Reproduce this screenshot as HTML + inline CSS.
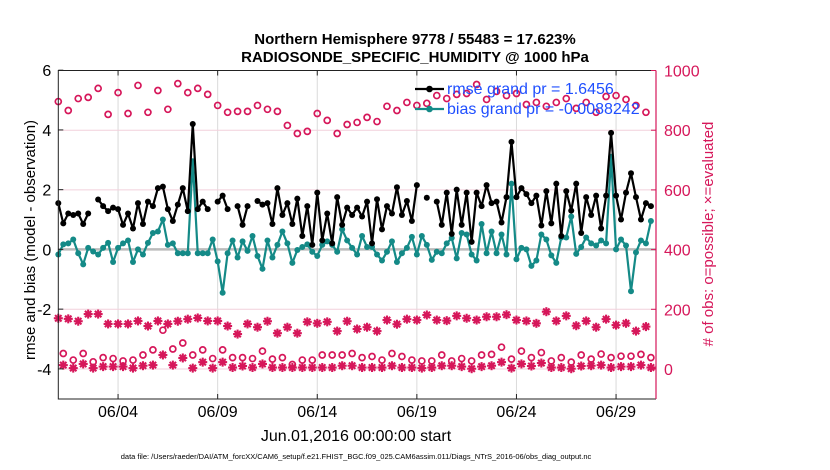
<!DOCTYPE html>
<html><head><meta charset="utf-8"><style>
html,body{margin:0;padding:0;background:#fff;}
svg{display:block;font-family:"Liberation Sans",Arial,sans-serif;}
</style></head><body>
<svg id="chart" width="830" height="470" viewBox="0 0 830 470">
<text x="415" y="44" text-anchor="middle" font-size="15" font-weight="bold">Northern Hemisphere 9778 / 55483 = 17.623%</text>
<text x="415" y="62" text-anchor="middle" font-size="15" font-weight="bold">RADIOSONDE_SPECIFIC_HUMIDITY @ 1000 hPa</text>
<g id="grid"></g><g id="marks"></g><g id="axes"></g>
<text transform="translate(35,240) rotate(-90)" text-anchor="middle" font-size="15">rmse and bias (model - observation)</text>
<text transform="translate(713,234) rotate(-90)" text-anchor="middle" font-size="15" fill="#d6175a"># of obs: o=possible; ×=evaluated</text>
<text x="356" y="441" text-anchor="middle" font-size="16">Jun.01,2016 00:00:00 start</text>
<text x="356" y="459" text-anchor="middle" font-size="7.5">data file: /Users/raeder/DAI/ATM_forcXX/CAM6_setup/f.e21.FHIST_BGC.f09_025.CAM6assim.011/Diags_NTrS_2016-06/obs_diag_output.nc</text>
<g id="legend"></g>
</svg>
<script>
const rmse=[1.55,0.87,1.2,1.15,1.2,0.85,1.2,null,1.67,1.45,1.28,1.4,1.35,0.82,1.2,0.7,1.55,0.85,1.6,1.45,2.05,2.1,1.35,0.95,1.5,2.05,1.28,4.2,1.35,1.6,1.35,null,1.6,1.8,1.35,null,1.45,0.82,1.45,null,1.62,1.5,
1.55,0.85,2.05,1.15,1.55,0.85,1.7,0.45,1.45,0.15,1.9,0.3,1.2,0.2,1.75,0.82,1.4,1.15,1.4,1.1,1.6,0.2,1.68,0.67,1.45,1.2,2.08,1.15,1.62,0.95,2.15,null,1.73,null,1.6,0.82,1.9,0.52,
2.0,0.82,1.9,0.25,1.9,1.45,2.15,1.55,1.6,0.9,1.75,3.6,1.75,2.05,1.85,1.55,1.8,0.8,1.95,0.87,2.2,0.45,1.95,1.3,2.2,0.55,1.75,1.15,1.8,0.7,1.8,3.9,1.8,1.0,1.9,2.55,1.75,1.0,1.55,1.45];
const bias=[-0.17,0.17,0.2,0.33,-0.13,-0.5,0.05,-0.07,-0.17,0.05,0.22,-0.42,0.05,0.2,0.3,-0.42,0.0,-0.17,0.22,0.55,0.6,1.0,0.15,0.2,-0.13,-0.13,-0.13,2.95,-0.13,-0.13,-0.13,0.33,-0.4,-1.45,-0.13,0.3,-0.27,0.27,-0.05,0.45,
-0.22,-0.65,0.3,-0.27,0.15,0.6,0.2,-0.45,-0.02,0.08,0.17,-0.08,-0.22,0.15,0.27,0.15,-0.08,0.67,0.3,0.05,-0.17,0.45,0.08,0.08,-0.17,-0.37,-0.08,0.27,-0.42,-0.13,0.05,0.42,-0.17,0.45,0.15,-0.35,-0.08,-0.13,0.2,0.38,
-0.3,0.55,0.5,-0.17,-0.37,0.85,-0.13,0.6,-0.13,0.5,-0.17,2.2,-0.33,0.05,0,-0.55,-0.37,0.5,0.33,-0.2,-0.45,0.4,0.4,1.1,-0.15,0.08,0.4,0.2,0.13,0.3,0.2,3.1,0.0,0.33,0.13,-1.4,-0.1,0.3,0.2,0.95];
const possibleSynoptic=[896,866,906,910,940,853,926,856,950,860,933,870,956,926,940,920,883,860,863,863,883,870,863,816,789,796,856,833,789,819,826,843,829,880,866,893,883,890,916,906,920,923,953,903,930,916,923,886,893,880,893,906,873,893,860,913,916,903,883,860];
const evaluatedSynoptic=[170,168,160,184,184,151,151,151,161,144,161,151,160,167,171,161,161,144,117,151,140,160,120,140,120,158,153,158,127,160,134,140,127,164,150,167,164,181,164,162,178,170,164,175,175,182,164,161,153,192,161,178,145,161,140,167,147,153,127,142];
const possibleOff=[52,30,52,24,38,35,27,30,47,64,130,67,87,47,64,35,64,38,38,35,60,33,38,15,30,30,47,47,47,52,38,42,30,52,42,30,27,27,47,27,35,27,47,49,73,33,60,38,55,27,38,23,47,33,50,38,43,43,49,38];
const evaluatedOff=[13,3,17,3,8,8,8,3,11,13,47,13,37,3,23,3,23,5,10,5,17,5,5,5,5,5,5,5,11,11,5,5,5,11,5,5,3,5,11,11,8,1,8,11,23,3,17,10,20,5,5,1,10,11,13,5,8,8,13,5];
const leftTicks=[6,4,2,0,-2,-4];
const rightTicks=[0,200,400,600,800,1000];
const dayTicks=[4,9,14,19,24,29];
const dayLabels=["06/04","06/09","06/14","06/19","06/24","06/29"];

const NS="http://www.w3.org/2000/svg";
const PINK="#d6175a",TEAL="#148a87";
const X0=58.3,X1=656,YT=70.5,YB=399;
function xStep(i){return X0+i*4.98;}
function xDay(d){return X0+(d-1)*19.92;}
function yL(v){return 249.4-v*29.87;}
function yR(n){return 369-n*0.2985;}
function el(tag,attrs,parent){const e=document.createElementNS(NS,tag);for(const k in attrs)e.setAttribute(k,attrs[k]);parent.appendChild(e);return e;}
const grid=document.getElementById('grid'),marks=document.getElementById('marks'),axes=document.getElementById('axes'),legend=document.getElementById('legend');

dayTicks.forEach((d,k)=>{
  const g=el('line',{x1:xDay(d),x2:xDay(d),y1:YT,y2:YB,stroke:'#dadada','stroke-width':1},grid);
  
  
});
rightTicks.forEach(n=>{
  if(n===400||n===1000)return;
  const g=el('line',{x1:X0,x2:X1,y1:yR(n),y2:yR(n),stroke:'#f2d0dc','stroke-width':1},grid);
  
  
});
const zl=el('line',{x1:X0,x2:X1,y1:yL(0),y2:yL(0),stroke:'#bbbbbb','stroke-width':2.5},grid);



function star(cx,cy,parent,name){
  const g=el('g',{stroke:PINK,'stroke-width':2.1},parent);
  
  
  const r=4.5;
  el('line',{x1:cx-r,x2:cx+r,y1:cy,y2:cy},g);
  el('line',{x1:cx,x2:cx,y1:cy-r,y2:cy+r},g);
  el('line',{x1:cx-3.2,x2:cx+3.2,y1:cy-3.2,y2:cy+3.2},g);
  el('line',{x1:cx-3.2,x2:cx+3.2,y1:cy+3.2,y2:cy-3.2},g);
}
function circ(cx,cy,parent,name){
  const c=el('circle',{cx:cx,cy:cy,r:3,fill:'none',stroke:PINK,'stroke-width':1.7},parent);
  
  
}
possibleSynoptic.forEach((n,j)=>circ(xStep(2*j),yR(n),marks,'possible-obs-point'));
possibleOff.forEach((n,j)=>circ(xStep(2*j+1),yR(n),marks,'possible-obs-point'));
evaluatedSynoptic.forEach((n,j)=>star(xStep(2*j),yR(n),marks,'evaluated-obs-point'));
evaluatedOff.forEach((n,j)=>star(xStep(2*j+1),yR(n),marks,'evaluated-obs-point'));

function series(vals,color,name){
  let d='',pen=false;
  vals.forEach((v,i)=>{
    if(v===null){pen=false;return;}
    d+=(pen?'L':'M')+xStep(i).toFixed(2)+' '+yL(v).toFixed(2);pen=true;
  });
  const p=el('path',{d:d,fill:'none',stroke:color,'stroke-width':2.2,'stroke-linejoin':'round'},marks);
  
  
  vals.forEach((v,i)=>{
    if(v===null)return;
    const c=el('circle',{cx:xStep(i),cy:yL(v),r:3,fill:color},marks);
    
    
  });
}
series(bias,TEAL,'bias');
series(rmse,'#000','rmse');

const bl=el('path',{d:`M${X1} ${YT}L${X0} ${YT}L${X0} ${YB}L${X1} ${YB}`,fill:'none',stroke:'#222','stroke-width':1},axes);


const ra=el('line',{x1:X1,x2:X1,y1:YT,y2:YB,stroke:PINK,'stroke-width':1.2},axes);


leftTicks.forEach(v=>{
  el('line',{x1:X0,x2:X0+5,y1:yL(v),y2:yL(v),stroke:'#222'},axes);
  const t=el('text',{x:X0-7,y:yL(v)+6,'text-anchor':'end','font-size':16},axes);
  t.textContent=String(v);
  
  
});
rightTicks.forEach(n=>{
  el('line',{x1:X1-5,x2:X1,y1:yR(n),y2:yR(n),stroke:PINK},axes);
  const t=el('text',{x:X1+8,y:yR(n)+6,'font-size':16,fill:PINK},axes);
  t.textContent=String(n);
  
  
});
dayTicks.forEach((d,k)=>{
  el('line',{x1:xDay(d),x2:xDay(d),y1:YB,y2:YB-5,stroke:'#222'},axes);
  el('line',{x1:xDay(d),x2:xDay(d),y1:YT,y2:YT+5,stroke:'#222'},axes);
  const t=el('text',{x:xDay(d),y:YB+18,'text-anchor':'middle','font-size':16},axes);
  t.textContent=dayLabels[k];
  
  
});

[['rmse grand pr = 1.6456','#000',89],['bias grand pr = -0.0088242',TEAL,109]].forEach(([label,color,y])=>{
  const g=el('g',{},legend);
  
  
  el('line',{x1:415,x2:444,y1:y,y2:y,stroke:color,'stroke-width':2.2},g);
  el('circle',{cx:429.5,cy:y,r:3.3,fill:color},g);
  const t=el('text',{x:447,y:y+5,'font-size':16,fill:'#1f4fff'},g);
  t.textContent=label;
});
</script>
</body></html>
